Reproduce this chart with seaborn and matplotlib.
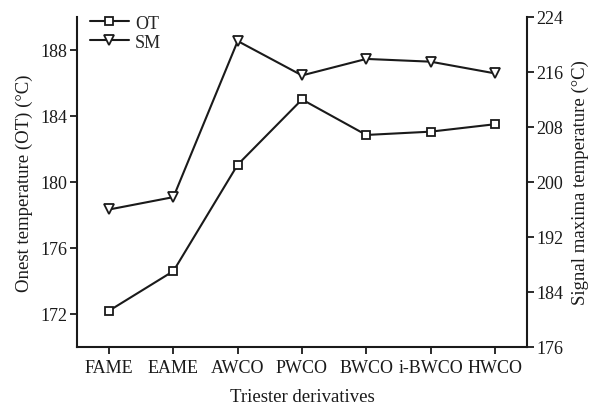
import matplotlib
matplotlib.use("Agg")
import matplotlib.pyplot as plt
import seaborn as sns
import pandas as pd

categories = ["FAME", "EAME", "AWCO", "PWCO", "BWCO", "i-BWCO", "HWCO"]
ot_values = [172.2, 174.6, 181.05, 185.0, 182.85, 183.05, 183.5]
sm_values = [196.0, 197.8, 220.5, 215.5, 217.9, 217.5, 215.8]

sns.set_theme(style="ticks")
plt.rcParams["font.family"] = ["Liberation Serif", "DejaVu Serif"]
plt.rcParams["mathtext.fontset"] = "stix"

df = pd.DataFrame({"x": range(len(categories)), "OT": ot_values, "SM": sm_values})

fig = plt.figure(figsize=(5.95, 4.06), dpi=100)
ax = fig.add_axes([0.1294, 0.1429, 0.8857 - 0.1294, 0.9557 - 0.1429])
ax2 = ax.twinx()

sns.lineplot(data=df, x="x", y="OT", ax=ax, color="#1a1a1a", marker="s",
             markersize=6, markerfacecolor="white", markeredgecolor="#1a1a1a",
             markeredgewidth=1.3, linewidth=1.5, label="OT", legend=False)
sns.lineplot(data=df, x="x", y="SM", ax=ax2, color="#1a1a1a", marker="v",
             markersize=6.5, markerfacecolor="white", markeredgecolor="#1a1a1a",
             markeredgewidth=1.3, linewidth=1.5, label="SM", legend=False)

ax.set_xlim(-0.5, 6.5)
ax.set_ylim(170, 190)
ax2.set_ylim(176, 224)
ax.set_xticks(range(len(categories)))
ax.set_xticklabels(categories)
ax.set_yticks([172, 176, 180, 184, 188])
ax2.set_yticks([176, 184, 192, 200, 208, 216, 224])

for a in (ax, ax2):
    a.tick_params(axis="both", direction="out", length=5, width=1.3,
                  colors="#1a1a1a", labelsize=13, pad=2)
    for s in a.spines.values():
        s.set_linewidth(1.5)
        s.set_color("#1a1a1a")
ax.spines["top"].set_visible(False)
ax.spines["right"].set_visible(False)
ax2.spines["top"].set_visible(False)
ax2.spines["left"].set_visible(False)
ax2.spines["bottom"].set_visible(False)
ax.tick_params(axis="x", labelsize=13, pad=4)

ax.set_xlabel("Triester derivatives", fontsize=13.5, color="#1a1a1a", labelpad=8)
ax.set_ylabel("Onest temperature (OT) (°C)", fontsize=13.5, color="#1a1a1a", labelpad=5)
ax2.set_ylabel("Signal maxima temperature (°C)", fontsize=13.5, color="#1a1a1a", labelpad=6)

h1, l1 = ax.get_legend_handles_labels()
h2, l2 = ax2.get_legend_handles_labels()
ax.legend(h1 + h2, l1 + l2, loc="upper left", bbox_to_anchor=(0.0, 1.045),
          frameon=False, fontsize=13, handlelength=2.2, handletextpad=0.3,
          labelspacing=0.1, borderaxespad=0.3)

fig.savefig("out.png", dpi=100)
